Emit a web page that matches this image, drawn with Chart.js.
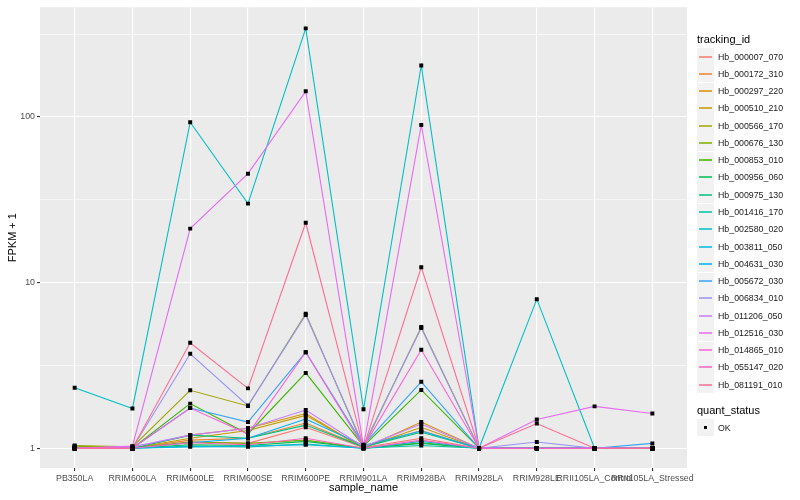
<!DOCTYPE html>
<html>
<head>
<meta charset="utf-8">
<script src="https://cdn.jsdelivr.net/npm/chart.js@4.4.1/dist/chart.umd.min.js"></script>
<style>
  body { margin: 0; background: #fff; font-family: "Liberation Sans", Arial, sans-serif; }
  #wrap { position: relative; width: 800px; height: 500px; }
  #legend { position: absolute; left: 697px; top: 31px; font-size: 8.8px; color: #1a1a1a; }
  .ltitle { font-size: 11px; color: #000; height: 17px; line-height: 17px; }
  .row { height: 17.27px; display: flex; align-items: center; }
  .key { width: 17px; height: 17px; background: #f2f2f2; position: relative; margin-right: 4px; }
  .key span { position: absolute; left: 2px; right: 2px; top: 7.5px; height: 2px; opacity: 0.75; }
  .key i { position: absolute; left: 7px; top: 7px; width: 3px; height: 3px; background: #000; }
</style>
</head>
<body>
<div id="wrap">
  <canvas id="myChart" width="800" height="500"></canvas>
  <div id="legend"></div>
</div>
<script>
var samples = ["PB350LA", "RRIM600LA", "RRIM600LE", "RRIM600SE", "RRIM600PE", "RRIM901LA",
  "RRIM928BA", "RRIM928LA", "RRIM928LE", "RRII105LA_Control", "RRII105LA_Stressed"];

var trackingIds = ["Hb_000007_070", "Hb_000172_310", "Hb_000297_220", "Hb_000510_210", "Hb_000566_170",
  "Hb_000676_130", "Hb_000853_010", "Hb_000956_060", "Hb_000975_130", "Hb_001416_170",
  "Hb_002580_020", "Hb_003811_050", "Hb_004631_030", "Hb_005672_030", "Hb_006834_010",
  "Hb_011206_050", "Hb_012516_030", "Hb_014865_010", "Hb_055147_020", "Hb_081191_010"];

// FPKM + 1, one array per tracking_id, in sample order
var hb000007 = [1, 1, 1.09, 1.07, 1.34, 1.01, 1.15, 1, 1, 1, 1];
var hb000172 = [1, 1, 1.12, 1.15, 1.42, 1.02, 1.28, 1, 1, 1, 1];
var hb000297 = [1.02, 1, 1.2, 1.32, 1.62, 1, 1.44, 1, 1, 1, 1];
var hb000510 = [1.02, 1, 1.15, 1.28, 1.58, 1.01, 1.34, 1, 1, 1, 1];
var hb000566 = [1.04, 1.02, 2.24, 1.8, 6.5, 1.02, 5.4, 1, 1, 1, 1];
var hb000676 = [1.03, 1, 1.09, 1.07, 1.12, 1, 1.08, 1, 1, 1, 1];
var hb000853 = [1, 1, 1.86, 1.22, 2.85, 1.03, 2.25, 1, 1, 1, 1];
var hb000956 = [1, 1, 1.05, 1.04, 1.1, 1, 1.07, 1, 1, 1, 1];
var hb000975 = [1, 1, 1.2, 1.15, 1.38, 1.02, 1.25, 1, 1, 1, 1];
var hb001416 = [1, 1, 1.03, 1.02, 1.06, 1, 1.04, 1, 1, 1, 1];
var hb002580 = [2.32, 1.74, 93, 30, 343, 1.72, 205, 1, 7.95, 1, 1];
var hb003811 = [1, 1, 1.02, 1.03, 1.05, 1, 1.1, 1, 1, 1, 1];
var hb004631 = [1, 1, 1.08, 1.15, 1.5, 1.04, 1.27, 1, 1, 1, 1];
var hb005672 = [1, 1, 1.75, 1.44, 3.8, 1.05, 2.52, 1, 1, 1, 1.07];
var hb006834 = [1, 1, 3.72, 1.81, 6.38, 1.04, 5.33, 1, 1.09, 1, 1];
var hb011206 = [1, 1.02, 1.2, 1.32, 1.7, 1.02, 1.4, 1, 1, 1, 1];
var hb012516 = [1, 1.03, 21.2, 45.5, 143, 1.03, 89.6, 1, 1.49, 1.79, 1.62];
var hb014865 = [1, 1, 1.75, 1.22, 3.8, 1.02, 3.93, 1, 1, 1, 1];
var hb055147 = [1, 1, 1.08, 1.05, 1.15, 1, 1.12, 1, 1, 1, 1];
var hb081191 = [1, 1, 4.33, 2.3, 23, 1.01, 12.4, 1, 1.41, 1, 1];

var seriesValues = [hb000007, hb000172, hb000297, hb000510, hb000566, hb000676, hb000853, hb000956,
  hb000975, hb001416, hb002580, hb003811, hb004631, hb005672, hb006834, hb011206, hb012516,
  hb014865, hb055147, hb081191];

var colors = ["#F8766D", "#EA8331", "#D89000", "#C09B00", "#A3A500", "#7CAE00", "#39B600", "#00BB4E",
  "#00BF7D", "#00C1A3", "#00BFC4", "#00BAE0", "#00B0F6", "#35A2FF", "#9590FF", "#C77CFF",
  "#E76BF3", "#FA62DB", "#FF62BC", "#FF6C91"];

var yTicks = [1, 10, 100];
var yMinor = [Math.sqrt(10), Math.sqrt(1000), Math.sqrt(100000)];

// line datasets
var datasets = seriesValues.map(function (vals, i) {
  return {
    label: trackingIds[i],
    data: vals.map(function (v, j) { return { x: j, y: v }; }),
    borderColor: colors[i],
    backgroundColor: colors[i],
    borderWidth: 1.1,
    pointRadius: 0,
    fill: false,
    tension: 0,
    order: -i
  };
});

// points on top of all lines
var allPoints = [];
seriesValues.forEach(function (vals) {
  vals.forEach(function (v, j) { allPoints.push({ x: j, y: v }); });
});
datasets.push({
  type: 'scatter',
  label: 'OK',
  data: allPoints,
  pointStyle: 'rect',
  pointRadius: 2.8,
  backgroundColor: '#000',
  borderWidth: 0,
  order: -1000
});

var panelBg = {
  id: 'panelBg',
  beforeDraw: function (chart) {
    var a = chart.chartArea, ctx = chart.ctx;
    ctx.save();
    ctx.fillStyle = '#EBEBEB';
    ctx.fillRect(a.left, a.top, a.right - a.left, a.bottom - a.top);
    ctx.restore();
  }
};

var ctx = document.getElementById("myChart").getContext('2d');
var myChart = new Chart(ctx, {
  type: 'line',
  data: { datasets: datasets },
  plugins: [panelBg],
  options: {
    responsive: false,
    animation: false,
    layout: { padding: { left: 0, top: 5, right: 113, bottom: 0 } },
    plugins: { legend: { display: false }, tooltip: { enabled: false } },
    scales: {
      x: {
        type: 'linear',
        min: -0.6,
        max: samples.length - 1 + 0.6,
        afterFit: function (s) { s.height = 32; },
        afterBuildTicks: function (s) {
          s.ticks = samples.map(function (c, i) { return { value: i }; });
        },
        grid: { color: '#FFFFFF', lineWidth: 1.1, tickColor: '#333333', tickLength: 3, drawTicks: true },
        border: { display: false },
        ticks: {
          autoSkip: false, maxRotation: 0, minRotation: 0, padding: 2,
          color: '#4D4D4D', font: { family: 'Liberation Sans', size: 8.8 },
          callback: function (v) { return samples[v]; }
        },
        title: { display: true, text: 'sample_name', color: '#000', padding: { top: 0, bottom: 5 },
          font: { family: 'Liberation Sans', size: 11 } }
      },
      y: {
        type: 'logarithmic',
        min: 0.76,
        max: 460,
        afterFit: function (s) { s.width = 40; },
        afterBuildTicks: function (s) {
          var t = [];
          yTicks.forEach(function (v, i) {
            t.push({ value: v, major: true });
            t.push({ value: yMinor[i], major: false });
          });
          s.ticks = t;
        },
        grid: {
          color: '#FFFFFF',
          lineWidth: function (c) { return c.tick && c.tick.major ? 1.1 : 0.55; },
          tickColor: function (c) { return c.tick && c.tick.major ? '#333333' : 'rgba(0,0,0,0)'; },
          tickLength: 3
        },
        border: { display: false },
        ticks: {
          padding: 2, color: '#4D4D4D', font: { family: 'Liberation Sans', size: 8.8 },
          callback: function (v) { return yTicks.indexOf(v) >= 0 ? String(v) : ''; }
        },
        title: { display: true, text: 'FPKM + 1', color: '#000', padding: { top: 6, bottom: 0 },
          font: { family: 'Liberation Sans', size: 11 } }
      }
    }
  }
});

// legend, ggplot style
var legend = document.getElementById('legend');
var html = '<div class="ltitle">tracking_id</div>';
trackingIds.forEach(function (id, i) {
  html += '<div class="row"><div class="key"><span style="background:' + colors[i] + '"></span></div>' + id + '</div>';
});
html += '<div style="height:9px"></div><div class="ltitle">quant_status</div>';
html += '<div class="row"><div class="key"><i></i></div>OK</div>';
legend.innerHTML = html;
</script>
</body>
</html>
